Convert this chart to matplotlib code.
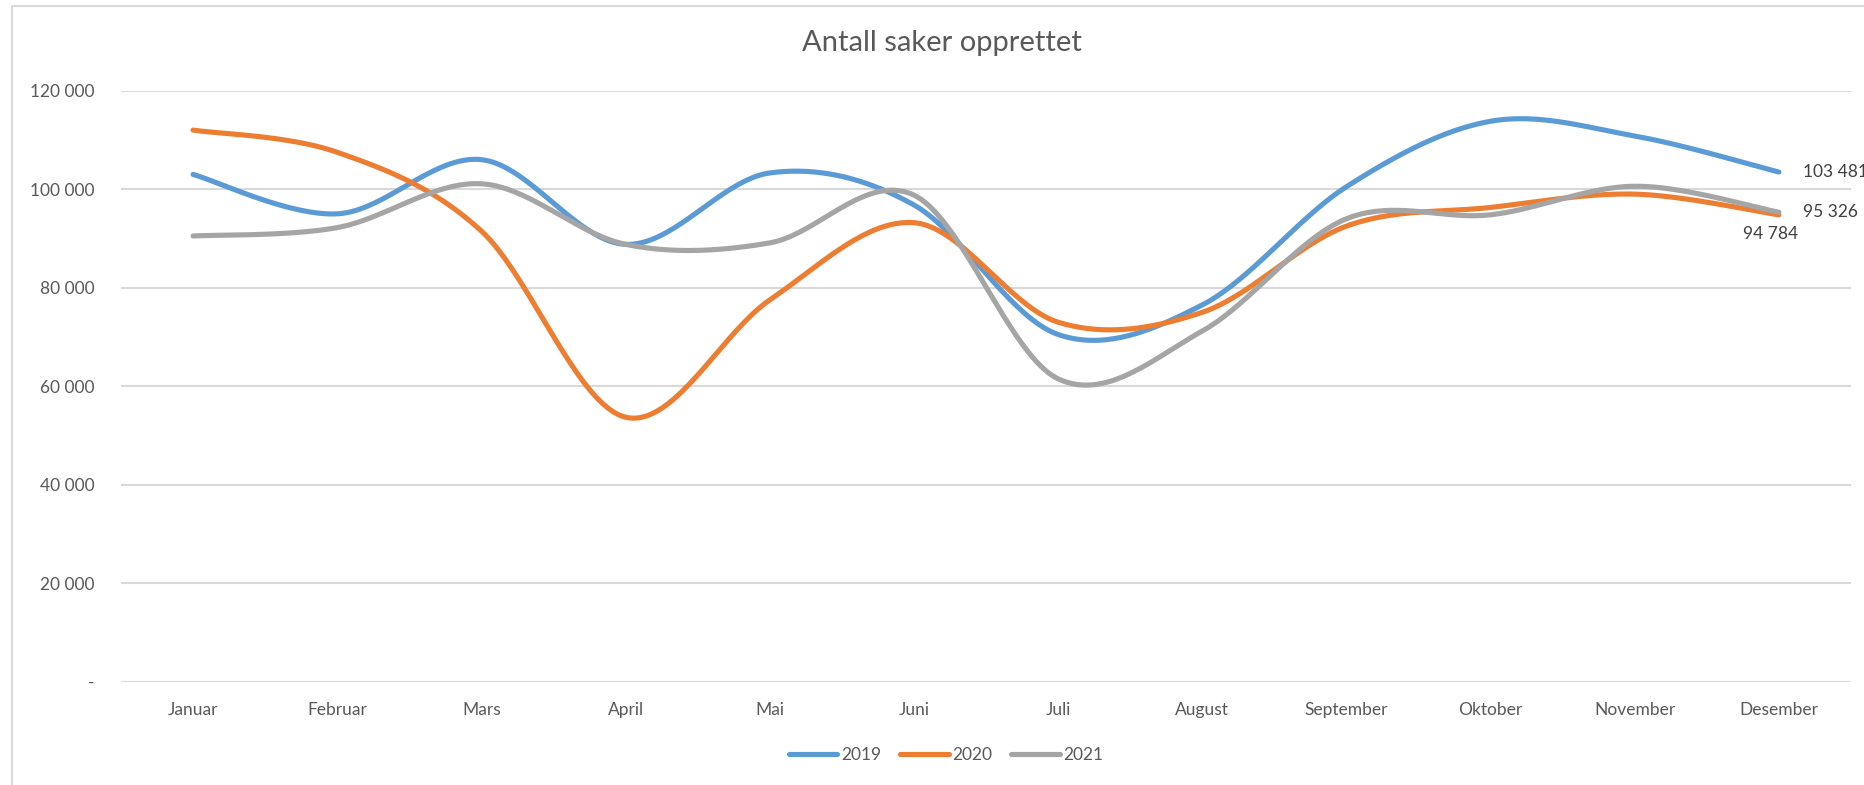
import numpy as np
import matplotlib
matplotlib.use("Agg")
import matplotlib.pyplot as plt
from matplotlib.lines import Line2D

months = ["Januar", "Februar", "Mars", "April", "Mai", "Juni", "Juli",
          "August", "September", "Oktober", "November", "Desember"]
s2019 = [103000, 95000, 106000, 88800, 103300, 96800, 70500, 76500, 100500, 113800, 110800, 103481]
s2020 = [112000, 107500, 91500, 53700, 77500, 93200, 73000, 75000, 92500, 96300, 99000, 94784]
s2021 = [90500, 92200, 101100, 88800, 89100, 98800, 61500, 71200, 94000, 94800, 100600, 95326]
series_names = ["2019", "2020", "2021"]
colors = ["#5B9BD5", "#ED7D31", "#A5A5A5"]
yticks = [0, 20000, 40000, 60000, 80000, 100000, 120000]
ytick_labels = ["-", "20 000", "40 000", "60 000", "80 000", "100 000", "120 000"]
end_labels = ["103 481", "94 784", "95 326"]

plt.rcParams['font.family'] = ['Lato', 'DejaVu Sans']
TXT = "#595959"

W, H = 1865, 785
fig = plt.figure(figsize=(W / 100, H / 100), dpi=100)

# chart-area border (left and top visible)
fig.add_artist(plt.Rectangle((12 / W, -0.1), 1.2, (H - 6) / H + 0.1, transform=fig.transFigure,
                             fill=False, edgecolor="#d9d9d9", linewidth=1.5))

left, right, top, bottom = 121, 1851, 90.7, 681.7
ax = fig.add_axes([left / W, (H - bottom) / H, (right - left) / W, (bottom - top) / H])
ax.set_xlim(-0.5, 11.5)
ax.set_ylim(0, 120000)
for s in ax.spines.values():
    s.set_visible(False)
ax.set_yticks(yticks)
ax.set_yticklabels(ytick_labels)
ax.set_xticks(range(len(months)))
ax.set_xticklabels(months)
ax.tick_params(axis="both", length=0, labelsize=12.5, labelcolor=TXT)
ax.tick_params(axis="y", pad=19)
ax.tick_params(axis="x", pad=14.5)
ax.grid(axis="y", color="#d9d9d9", linewidth=1.5)
ax.set_axisbelow(True)


def smooth(y, n=40):
    x = np.arange(len(y), dtype=float)
    y = np.asarray(y, dtype=float)
    P = np.column_stack([x, y])
    out = []
    for i in range(len(P) - 1):
        p0 = P[i - 1] if i > 0 else P[i]
        p1 = P[i]
        p2 = P[i + 1]
        p3 = P[i + 2] if i + 2 < len(P) else P[i + 1]
        c1 = p1 + (p2 - p0) / 6.0
        c2 = p2 - (p3 - p1) / 6.0
        t = np.linspace(0, 1, n)[:, None]
        seg = ((1 - t) ** 3) * p1 + 3 * ((1 - t) ** 2) * t * c1 + 3 * (1 - t) * t ** 2 * c2 + t ** 3 * p2
        out.append(seg if i == 0 else seg[1:])
    return np.vstack(out)


for data, c in zip([s2019, s2020, s2021], colors):
    pts = smooth(data)
    ax.plot(pts[:, 0], pts[:, 1], color=c, linewidth=3.7, solid_capstyle="round", clip_on=False)

last = len(months) - 1
ax.annotate(end_labels[0], (last, s2019[-1]), xytext=(17, 0), textcoords="offset points",
            ha="left", va="center", fontsize=12.5, color="#404040", annotation_clip=False)
ax.annotate(end_labels[2], (last, s2021[-1]), xytext=(17, 0), textcoords="offset points",
            ha="left", va="center", fontsize=12.5, color="#404040", annotation_clip=False)
ax.annotate(end_labels[1], (last, s2020[-1]), xytext=(-6, -14), textcoords="offset points",
            ha="center", va="center", fontsize=12.5, color="#404040", annotation_clip=False)

fig.text(942 / W, 1 - 43 / H, "Antall saker opprettet", ha="center", va="center",
         fontsize=21, color=TXT)

handles = [Line2D([0], [0], color=c, linewidth=3.7, solid_capstyle="round") for c in colors]
fig.legend(handles, series_names, loc="center", bbox_to_anchor=(946 / W, 1 - 755 / H),
           ncol=3, frameon=False, fontsize=12.5, labelcolor=TXT, handlelength=2.8,
           handletextpad=0.2, columnspacing=1.1)

fig.savefig("out.png", dpi=100, facecolor="white")
